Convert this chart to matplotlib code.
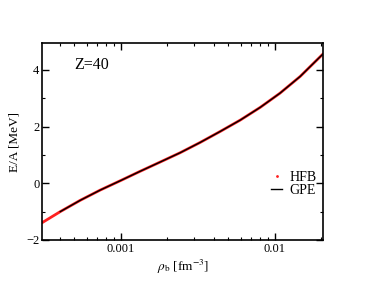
import matplotlib
matplotlib.use("Agg")
import matplotlib.pyplot as plt
from matplotlib.ticker import FixedLocator, FuncFormatter, LogLocator, NullFormatter, MultipleLocator
from matplotlib.lines import Line2D

plt.rcParams['font.family'] = ['Liberation Serif', 'DejaVu Serif']
plt.rcParams['mathtext.fontset'] = 'stix'

# HFB data (density fm^-3, E/A MeV)
hfb_rho = [3.08e-4, 4.04e-4, 5.45e-4, 7.34e-4, 1.0e-3, 1.33e-3, 1.80e-3,
           2.43e-3, 3.27e-3, 4.42e-3, 5.96e-3, 8.04e-3, 1.08e-2, 1.46e-2, 2.06e-2]
hfb_E = [-1.39, -1.00, -0.60, -0.24, 0.10, 0.42, 0.75,
         1.08, 1.44, 1.83, 2.23, 2.68, 3.18, 3.77, 4.57]

# GPE data
gpe_rho = [4.04e-4, 5.45e-4, 7.34e-4, 1.0e-3, 1.33e-3, 1.80e-3,
           2.43e-3, 3.27e-3, 4.42e-3, 5.96e-3, 8.04e-3, 1.08e-2, 1.46e-2, 2.06e-2]
gpe_E = [-1.00, -0.60, -0.24, 0.10, 0.42, 0.75,
         1.08, 1.44, 1.83, 2.23, 2.68, 3.18, 3.77, 4.57]

fig = plt.figure(figsize=(3.66, 2.83), dpi=100)
ax = fig.add_axes([0.115, 0.152, 0.768, 0.696])

ax.plot(hfb_rho, hfb_E, color='#ff2020', lw=2.0, solid_capstyle='round')
ax.plot(gpe_rho, gpe_E, color='black', lw=1.0)

ax.set_xscale('log')
ax.set_xlim(3.08e-4, 0.0206)
ax.set_ylim(-2, 4.95)

ax.xaxis.set_major_locator(FixedLocator([0.001, 0.01]))
ax.xaxis.set_major_formatter(FuncFormatter(lambda v, p: {0.001: '0.001', 0.01: '0.01'}.get(round(v, 4), '')))
ax.xaxis.set_minor_locator(LogLocator(base=10, subs=range(2, 10), numticks=20))
ax.xaxis.set_minor_formatter(NullFormatter())
ax.yaxis.set_major_locator(FixedLocator([-2, 0, 2, 4]))
ax.yaxis.set_minor_locator(MultipleLocator(1))

ax.tick_params(which='both', direction='in', top=True, right=True, labelsize=9, pad=2)
ax.tick_params(which='major', length=5, width=1.0)
ax.tick_params(which='minor', length=2.5, width=0.8)
for s in ax.spines.values():
    s.set_linewidth(1.2)

ax.set_xlabel(r'$\rho_{\rm b}$ [fm$^{-3}$]', fontsize=9.5, labelpad=2)
ax.set_ylabel('E/A [MeV]', fontsize=9.5, labelpad=4)

ax.text(0.114, 0.89, 'Z=40', transform=ax.transAxes, fontsize=11.5, va='center', ha='left')

handles = [Line2D([], [], color='#ff2020', marker='.', markersize=2, ls='none'),
           Line2D([], [], color='black', lw=1.0)]
ax.legend(handles, ['HFB', 'GPE'], loc='center right', bbox_to_anchor=(1.0, 0.285),
          frameon=False, fontsize=10, handlelength=0.8, handletextpad=0.5,
          labelspacing=0.0, borderaxespad=0.0, borderpad=0.5)

fig.savefig('out.png', dpi=100)
